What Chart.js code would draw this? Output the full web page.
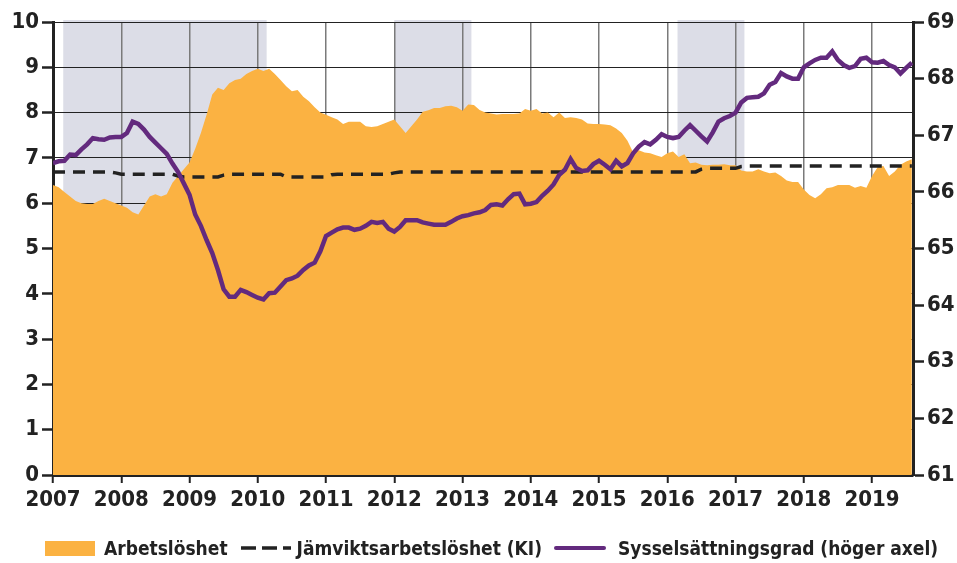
<!DOCTYPE html>
<html>
<head>
<meta charset="utf-8">
<script src="https://cdn.jsdelivr.net/npm/chart.js@4/dist/chart.umd.min.js"></script>
<style>
  body { margin: 0; background: #fff; }
  #wrap { position: relative; width: 957px; height: 563px; }
  .legend { position: absolute; left: 45px; top: 537px; display: flex; align-items: center;
    font-family: 'DejaVu Sans Condensed', 'Liberation Sans Narrow', sans-serif; font-weight: bold;
    font-size: 19px; color: #222; white-space: nowrap; }
  .legend .box { width: 50px; height: 15px; background: #fbb242; margin-right: 9px; }
  .legend svg { margin: 0 6px 0 13px; }
  .legend .line { width: 52px; height: 4.5px; background: #632a7e; border-radius: 2px; margin: 0 12px 0 12px; }
</style>
</head>
<body>
<div id="wrap">
  <canvas id="myChart"></canvas>
  <div class="legend">
    <span class="box"></span><span>Arbetslöshet</span>
    <svg width="50" height="6"><line x1="0" y1="3" x2="50" y2="3" stroke="#222" stroke-width="3.5" stroke-dasharray="15 6"/></svg><span>Jämviktsarbetslöshet (KI)</span>
    <span class="line"></span><span>Sysselsättningsgrad (höger axel)</span>
  </div>
</div>
<script>
// monthly data, Jan 2007 - Aug 2019
const startYear = 2007
const yearTicks = [2007, 2008, 2009, 2010, 2011, 2012, 2013, 2014, 2015, 2016, 2017, 2018, 2019]

const arbetsloshet = [
    6.40, 6.35, 6.25, 6.15, 6.05, 6.00, 5.98, 5.98, 6.05, 6.10, 6.05, 6.00,
    5.95, 5.90, 5.80, 5.75, 5.95, 6.15, 6.20, 6.15, 6.20, 6.45, 6.60, 6.75,
    6.90, 7.20, 7.55, 7.95, 8.40, 8.55, 8.50, 8.65, 8.72, 8.75, 8.85, 8.92,
    8.97, 8.92, 8.97, 8.85, 8.72, 8.58, 8.47, 8.50, 8.35, 8.25, 8.12, 8.00,
    7.95, 7.90, 7.85, 7.75, 7.80, 7.80, 7.80, 7.70, 7.68, 7.70, 7.75, 7.80,
    7.85, 7.70, 7.55, 7.70, 7.85, 8.02, 8.05, 8.10, 8.10, 8.14, 8.15, 8.12,
    8.04, 8.18, 8.17, 8.06, 8.00, 7.98, 7.96, 7.97, 7.97, 7.97, 7.98, 8.08,
    8.04, 8.08, 7.98, 8.00, 7.90, 8.00, 7.88, 7.90, 7.88, 7.85, 7.76, 7.75,
    7.75, 7.74, 7.72, 7.65, 7.55, 7.38, 7.12, 7.17, 7.12, 7.10, 7.06, 7.02,
    7.10, 7.14, 7.02, 7.08, 6.88, 6.90, 6.85, 6.84, 6.85, 6.85, 6.86, 6.84,
    6.84, 6.72, 6.70, 6.70, 6.75, 6.70, 6.66, 6.68, 6.60, 6.50, 6.47, 6.47,
    6.30, 6.18, 6.11, 6.20, 6.33, 6.35, 6.40, 6.40, 6.40, 6.34, 6.38, 6.34,
    6.60, 6.80, 6.82, 6.60, 6.70, 6.85, 6.92, 6.97
]

const jamvikt = [
    6.69, 6.69, 6.69, 6.69, 6.69, 6.69, 6.69, 6.69, 6.69, 6.69, 6.69, 6.67,
    6.64, 6.64, 6.64, 6.64, 6.64, 6.64, 6.64, 6.64, 6.64, 6.64, 6.60, 6.58,
    6.58, 6.58, 6.58, 6.58, 6.58, 6.58, 6.62, 6.64, 6.64, 6.64, 6.64, 6.64,
    6.64, 6.64, 6.64, 6.64, 6.64, 6.58, 6.58, 6.58, 6.58, 6.58, 6.58, 6.58,
    6.58, 6.63, 6.64, 6.64, 6.64, 6.64, 6.64, 6.64, 6.64, 6.64, 6.64, 6.64,
    6.67, 6.69, 6.69, 6.69, 6.69, 6.69, 6.69, 6.69, 6.69, 6.69, 6.69, 6.69,
    6.69, 6.69, 6.69, 6.69, 6.69, 6.69, 6.69, 6.69, 6.69, 6.69, 6.69, 6.69,
    6.69, 6.69, 6.69, 6.69, 6.69, 6.69, 6.69, 6.69, 6.69, 6.69, 6.69, 6.69,
    6.69, 6.69, 6.69, 6.69, 6.69, 6.69, 6.69, 6.69, 6.69, 6.69, 6.69, 6.69,
    6.69, 6.69, 6.69, 6.69, 6.69, 6.69, 6.75, 6.77, 6.77, 6.77, 6.77, 6.77,
    6.77, 6.81, 6.82, 6.82, 6.82, 6.82, 6.82, 6.82, 6.82, 6.82, 6.82, 6.82,
    6.82, 6.82, 6.82, 6.82, 6.82, 6.82, 6.82, 6.82, 6.82, 6.82, 6.82, 6.82,
    6.82, 6.82, 6.82, 6.82, 6.82, 6.82, 6.82, 6.82
]

const syssgrad = [
    66.51, 66.54, 66.55, 66.66, 66.65, 66.75, 66.84, 66.95, 66.93, 66.92, 66.96, 66.97,
    66.97, 67.04, 67.24, 67.20, 67.10, 66.97, 66.87, 66.77, 66.67, 66.50, 66.35, 66.15,
    65.95, 65.60, 65.40, 65.15, 64.92, 64.62, 64.28, 64.15, 64.15, 64.27, 64.23, 64.18,
    64.13, 64.10, 64.21, 64.22, 64.33, 64.44, 64.47, 64.52, 64.62, 64.70, 64.75, 64.95,
    65.22, 65.28, 65.34, 65.37, 65.37, 65.33, 65.35, 65.40, 65.47, 65.45, 65.47, 65.35,
    65.30, 65.38, 65.50, 65.50, 65.50, 65.46, 65.44, 65.42, 65.42, 65.42, 65.47, 65.53,
    65.57, 65.59, 65.62, 65.64, 65.68, 65.77, 65.78, 65.76, 65.87, 65.96, 65.97, 65.78,
    65.79, 65.82, 65.93, 66.02, 66.13, 66.30, 66.39, 66.58, 66.42, 66.37, 66.38, 66.49,
    66.55, 66.48, 66.40, 66.55, 66.45, 66.51, 66.68, 66.80, 66.88, 66.84, 66.92, 67.02,
    66.97, 66.95, 66.97, 67.08, 67.18, 67.08, 66.98, 66.89, 67.05, 67.24, 67.30, 67.34,
    67.40, 67.58, 67.66, 67.67, 67.68, 67.74, 67.89, 67.94, 68.10, 68.04, 68.00, 68.00,
    68.20, 68.27, 68.33, 68.37, 68.37, 68.48, 68.33, 68.24, 68.19, 68.22, 68.35, 68.37,
    68.29, 68.28, 68.31, 68.24, 68.20, 68.09, 68.19, 68.28
]

// shaded periods (years)
const shadeStart = [2007.15, 2012.0, 2016.15]
const shadeEnd = [2010.13, 2013.13, 2017.13]

const toPoints = (arr) => arr.map((v, i) => ({ x: startYear + i / 12, y: v }))

const shading = {
    id: 'shading',
    beforeDraw(chart) {
        const { ctx, chartArea, scales } = chart
        ctx.save()
        ctx.fillStyle = '#dcdde7'
        shadeStart.forEach((s, i) => {
            const x0 = scales.x.getPixelForValue(s)
            const x1 = scales.x.getPixelForValue(shadeEnd[i])
            ctx.fillRect(x0, chartArea.top - 2, x1 - x0, chartArea.bottom - chartArea.top + 2)
        })
        ctx.restore()
    }
}

const font = { family: "'DejaVu Sans Condensed', 'Liberation Sans Narrow', sans-serif", weight: 'bold', size: 22 }

new Chart(document.getElementById('myChart'), {
    type: 'line',
    data: {
        datasets: [
            {
                label: 'Sysselsättningsgrad (höger axel)',
                data: toPoints(syssgrad),
                yAxisID: 'y1',
                borderColor: '#632a7e',
                borderWidth: 4.5,
                pointRadius: 0,
                tension: 0,
                order: 1,
            },
            {
                label: 'Jämviktsarbetslöshet (KI)',
                data: toPoints(jamvikt),
                yAxisID: 'y',
                borderColor: '#222',
                borderWidth: 3.5,
                borderDash: [12, 8],
                pointRadius: 0,
                order: 2,
            },
            {
                label: 'Arbetslöshet',
                data: toPoints(arbetsloshet),
                yAxisID: 'y',
                backgroundColor: '#fbb242',
                borderWidth: 0,
                borderColor: 'rgba(0,0,0,0)',
                fill: 'origin',
                pointRadius: 0,
                order: 3,
            },
        ]
    },
    options: {
        responsive: true,
        maintainAspectRatio: false,
        animation: false,
        layout: { padding: { top: 22, left: 0, right: 0, bottom: 0 } },
        plugins: { legend: { display: false }, tooltip: { enabled: false } },
        scales: {
            x: {
                type: 'linear',
                min: 2007,
                max: 2019.6,
                afterBuildTicks: (scale) => { scale.ticks = yearTicks.map(v => ({ value: v })) },
                afterFit: (scale) => { scale.height = 88 },
                ticks: { font: font, color: '#222', padding: 4, maxRotation: 0, callback: (v) => String(v) },
                grid: { color: '#7a7a7a', lineWidth: 1.5, tickColor: '#222', tickLength: 8, tickWidth: 2 },
                border: { color: '#222', width: 3 },
            },
            y: {
                position: 'left',
                min: 0,
                max: 10,
                afterFit: (scale) => { scale.width = 53 },
                ticks: { stepSize: 1, font: font, color: '#222', padding: 3 },
                grid: { color: '#222', lineWidth: 1, tickColor: '#222', tickLength: 11, tickWidth: 2.5 },
                border: { color: '#222', width: 3 },
            },
            y1: {
                position: 'right',
                min: 61,
                max: 69,
                afterFit: (scale) => { scale.width = 44 },
                ticks: { stepSize: 1, font: font, color: '#222', padding: 3 },
                grid: { drawOnChartArea: false, tickColor: '#222', tickLength: 11, tickWidth: 2.5 },
                border: { color: '#222', width: 3 },
            },
        }
    },
    plugins: [shading]
})
</script>
</body>
</html>
